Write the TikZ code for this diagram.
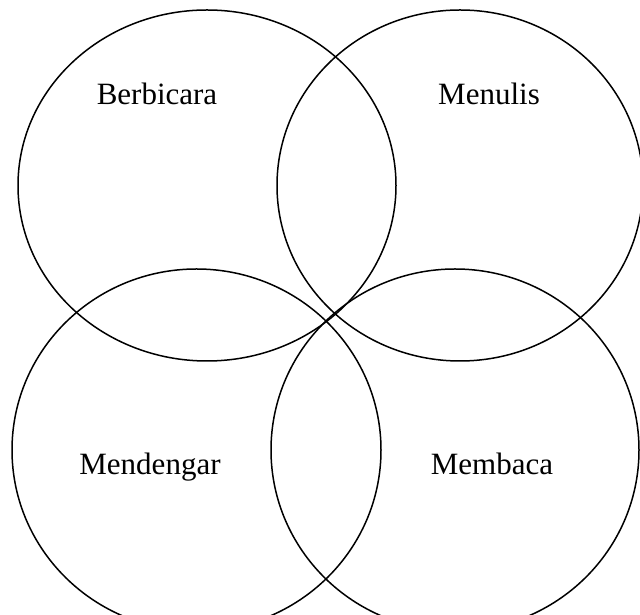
\documentclass[tikz,border=0pt]{standalone}
\usepackage{fontspec}
\setmainfont{Liberation Serif}
\usepackage{tikz}
\usetikzlibrary{positioning}

\tikzset{label text/.style={font=\fontsize{31}{36}\selectfont, anchor=base}}

\begin{document}
\begin{tikzpicture}[x=1pt, y=1pt, line width=1.5pt]
    % Page frame
    \useasboundingbox (0, 0) rectangle (640, 615);
    \clip (0, 0) rectangle (640, 615);
    
    % Centres of the four circles
    \coordinate (Cbicara) at (207, 429.5);
    \coordinate (Ctulis) at (460, 429.5);
    \coordinate (Cdengar) at (196.5, 165);
    \coordinate (Cbaca) at (455, 165);
    
    % Circles
    \draw (Cbicara) ellipse [x radius=189, y radius=175.5];
    \draw (Ctulis) ellipse [x radius=183, y radius=175.5];
    \draw (Cdengar) ellipse [x radius=184.5, y radius=181];
    \draw (Cbaca) ellipse [x radius=184, y radius=181];
    
    % Labels
    \node[label text] (bicara) at (157, 510.5) {Berbicara};
    \node[label text] (tulis) at (489, 510.5) {Menulis};
    \node[label text] (dengar) at (150, 140) {Mendengar};
    \node[label text] (baca) at (492, 140) {Membaca};
\end{tikzpicture}
\end{document}
